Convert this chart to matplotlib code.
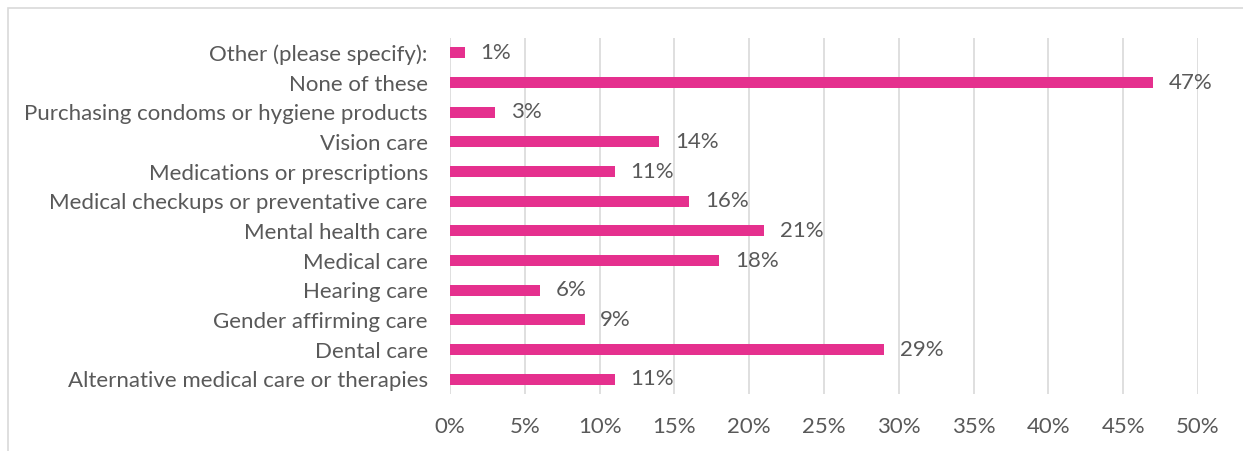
import matplotlib.pyplot as plt
from matplotlib.patches import Rectangle

# Categorias (de baixo para cima) e percentuais
categorias = [
    'Alternative medical care or therapies',
    'Dental care',
    'Gender affirming care',
    'Hearing care',
    'Medical care',
    'Mental health care',
    'Medical checkups or preventative care',
    'Medications or prescriptions',
    'Vision care',
    'Purchasing condoms or hygiene products',
    'None of these',
    'Other (please specify):',
]
valores = [11, 29, 9, 6, 18, 21, 16, 11, 14, 3, 47, 1]
ticks_x = [0, 5, 10, 15, 20, 25, 30, 35, 40, 45, 50]

cor_barra = '#E5308E'
cor_texto = '#595959'
plt.rcParams['font.family'] = ['Lato', 'DejaVu Sans']

fig = plt.figure(figsize=(12.43, 4.51), dpi=100)
ax = fig.add_axes([450 / 1243, 1 - 394 / 451, 748 / 1243, 356 / 451])

# moldura do gráfico
fig.patches.append(Rectangle((8 / 1243, -0.1), 1.2, 1 - 8 / 451 + 0.1,
                             transform=fig.transFigure, fill=False,
                             edgecolor='#D9D9D9', linewidth=1.2))

y = list(range(len(categorias)))
ax.barh(y, valores, height=0.37, color=cor_barra, zorder=3)
for yi, v in zip(y, valores):
    ax.text(v + 1.05, yi, f'{v}%', va='center', ha='left',
            fontsize=16, color=cor_texto)

ax.set_xlim(0, 50)
ax.set_ylim(-0.5, len(categorias) - 0.5)
ax.set_xticks(ticks_x)
ax.set_xticklabels([f'{t}%' for t in ticks_x])
ax.set_yticks(y)
ax.set_yticklabels(categorias)
ax.tick_params(axis='both', length=0, labelsize=16, colors=cor_texto)
ax.tick_params(axis='y', pad=16)
ax.tick_params(axis='x', pad=16.5)
ax.grid(axis='x', color='#D9D9D9', linewidth=1.2, zorder=0)
for s in ax.spines.values():
    s.set_visible(False)

plt.savefig('out.png', dpi=100)
